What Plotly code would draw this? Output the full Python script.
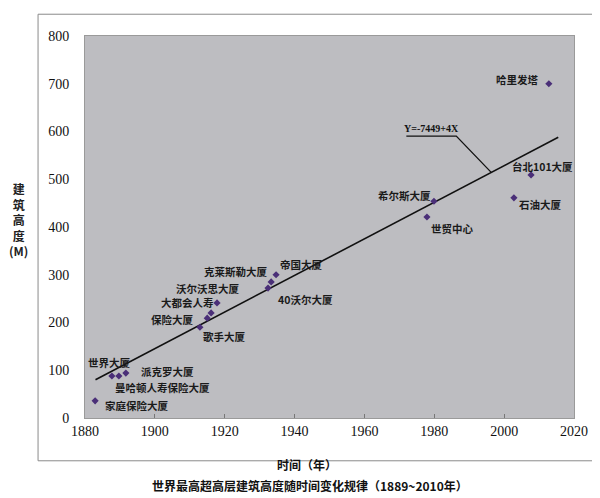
import plotly.graph_objects as go

# ---- data ----
names = ["家庭保险大厦", "世界大厦", "曼哈顿人寿保险大厦", "派克罗大厦", "歌手大厦",
         "保险大厦", "大都会人寿", "沃尔沃思大厦", "40沃尔大厦", "克莱斯勒大厦", "帝国大厦",
         "世贸中心", "希尔斯大厦", "石油大厦", "台北101大厦", "哈里发塔"]
years = [1882.9, 1887.7, 1889.7, 1891.7, 1912.9,
         1915.0, 1916.1, 1917.8, 1932.4, 1933.3, 1934.7,
         1977.9, 1979.9, 2002.8, 2007.7, 2012.8]
heights = [36, 88, 88, 94, 190,
           209, 220, 241, 272, 285, 300,
           421, 454, 461, 509, 700]

trend_years = [1883, 2015.5]
trend_heights = [80, 588]
trend_label = "Y=-7449+4X"

x_ticks = [1880, 1900, 1920, 1940, 1960, 1980, 2000, 2020]
y_ticks = [0, 100, 200, 300, 400, 500, 600, 700, 800]

# label offsets (pixels, relative to each point) -- layout only
label_dx = [42, -2, 44, 42, 25, -35, -24, -9, 37, -35, 25, 26, -29, 27, 11, -31]
label_dy = [5, -13, 12, -2, 9, 1, -10, -14, 11, -10, -10, 12, -6, 7, -8, -4]

CJK = "Noto Sans CJK SC"
SERIF = "Liberation Serif"

fig = go.Figure()
fig.add_trace(go.Scatter(x=trend_years, y=trend_heights, mode="lines",
                         line=dict(color="#111111", width=1.6),
                         hoverinfo="skip", showlegend=False))
fig.add_trace(go.Scatter(x=years, y=heights, mode="markers", text=names,
                         marker=dict(symbol="diamond", size=5.5, color="#4a2f78"),
                         showlegend=False))

annotations = []
for n, x, y, dx, dy in zip(names, years, heights, label_dx, label_dy):
    annotations.append(dict(x=x, y=y, xref="x", yref="y", text="<b>" + n + "</b>",
                            showarrow=True, ax=dx, ay=dy,
                            arrowcolor="rgba(0,0,0,0)", arrowwidth=0.1,
                            font=dict(family=CJK, size=10.5, color="#1a1a1a"),
                            xanchor="center", yanchor="middle"))

# equation callout: leader from label to a point on the trend line
tx0, tx1 = trend_years
ty0, ty1 = trend_heights
hit_x = 1996.3
hit_y = ty0 + (ty1 - ty0) * (hit_x - tx0) / (tx1 - tx0)
lab_y = hit_y + 76
fig.add_shape(type="path", xref="x", yref="y",
              path=f"M 1972,{lab_y} L 1986.3,{lab_y} L {hit_x},{hit_y}",
              line=dict(color="#111111", width=1.3))
annotations.append(dict(x=1979.2, y=lab_y, xref="x", yref="y", text="<b>" + trend_label + "</b>",
                        showarrow=False, yanchor="bottom", yshift=0,
                        font=dict(family=SERIF, size=10, color="#111111")))

# y-axis title (vertical stacked)
annotations.append(dict(x=-0.16, y=0.52, xref="paper", yref="paper",
                        text="<b>建<br>筑<br>高<br>度<br>(M)</b>", showarrow=False,
                        font=dict(family=CJK, size=12, color="#222222"),
                        align="center"))
# x-axis title and caption
annotations.append(dict(x=0.455, y=-0.149, xref="paper", yref="paper",
                        text="<b>时间（年）</b>", showarrow=False,
                        font=dict(family=CJK, size=12, color="#111111")))
annotations.append(dict(x=0.46, y=-0.204, xref="paper", yref="paper",
                        text="<b>世界最高超高层建筑高度随时间变化规律（1889~2010年）</b>",
                        showarrow=False,
                        font=dict(family=CJK, size=12, color="#111111")))

# outer frame around chart
fig.add_shape(type="rect", xref="paper", yref="paper",
              x0=-0.096, x1=1.055, y0=-0.112, y1=1.057,
              line=dict(color="#8a8a8a", width=1), fillcolor="rgba(0,0,0,0)", layer="below")

fig.update_layout(
    width=600, height=498,
    margin=dict(l=77, r=34, t=28, b=88),
    paper_bgcolor="white",
    plot_bgcolor="#bdbdc1",
    annotations=annotations,
    showlegend=False,
    xaxis=dict(range=[1880, 2020], tickvals=x_ticks, ticks="inside", ticklen=4,
               tickcolor="#777777", showgrid=False, zeroline=False,
               showline=True, linecolor="#9a9a9a", mirror=True,
               tickfont=dict(family=SERIF, size=14, color="#111111")),
    yaxis=dict(range=[0, 800], tickvals=y_ticks, ticks="", showgrid=False,
               zeroline=False, showline=True, linecolor="#9a9a9a", mirror=True,
               ticklabelstandoff=12,
               tickfont=dict(family=SERIF, size=14, color="#111111")),
)

fig.write_html("out.html")
